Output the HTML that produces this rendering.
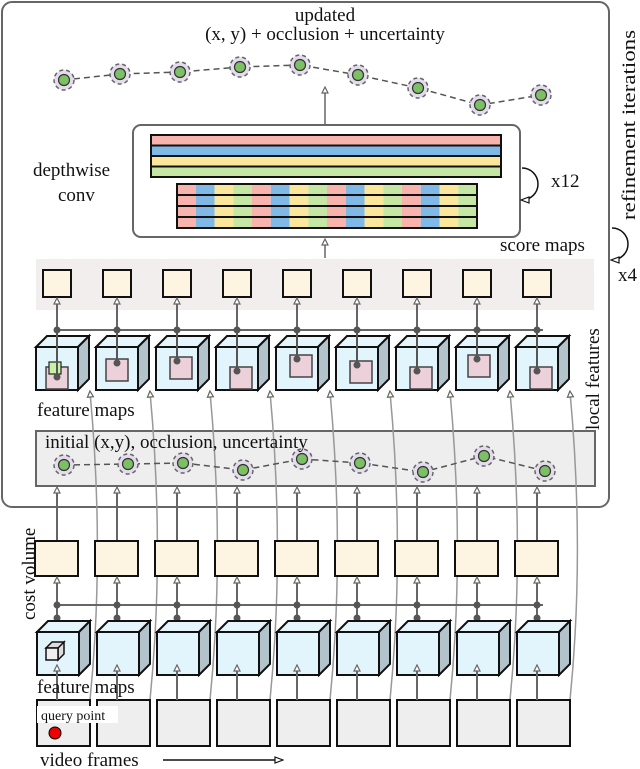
<!DOCTYPE html>
<html><head><meta charset="utf-8"><style>
html,body{margin:0;padding:0;background:#fff}
svg{display:block}
text{font-family:"Liberation Serif",serif;fill:#111}
</style></head><body>
<svg id="s" width="640" height="769" viewBox="0 0 640 769" xmlns="http://www.w3.org/2000/svg">
<defs>
<marker id="ah" markerWidth="8" markerHeight="8" refX="6" refY="4" orient="auto" markerUnits="userSpaceOnUse"><path d="M1,1 L7,4 L1,7 Z" fill="#fff" stroke="#666" stroke-width="1.2"/></marker>
<marker id="ahk" markerWidth="10" markerHeight="8" refX="8" refY="4" orient="auto" markerUnits="userSpaceOnUse"><path d="M1,1 L9,4 L1,7 Z" fill="#fff" stroke="#111" stroke-width="1.2"/></marker>
</defs>
<rect x="2" y="2" width="607" height="505" rx="10" fill="none" stroke="#666" stroke-width="2"/>
<rect x="36" y="259" width="558" height="51" fill="#f3eeee"/>
<rect x="36" y="431" width="559" height="55" fill="#eeeeee" stroke="#666" stroke-width="2"/>
<rect x="133" y="125" width="387" height="112" rx="8" fill="#fff" stroke="#666" stroke-width="2"/>
<g id="g"></g>
<text x="325" y="21" font-size="19" text-anchor="middle">updated</text>
<text x="325" y="40" font-size="19" text-anchor="middle">(x, y) + occlusion + uncertainty</text>
<text x="33" y="176" font-size="19">depthwise</text>
<text x="58" y="201" font-size="19">conv</text>
<text x="551" y="187" font-size="19">x12</text>
<text x="500" y="251" font-size="19">score maps</text>
<text x="618" y="281" font-size="19">x4</text>
<text transform="translate(635,220) rotate(-90)" font-size="19" textLength="190" lengthAdjust="spacingAndGlyphs">refinement iterations</text>
<text transform="translate(599,430) rotate(-90)" font-size="19">local features</text>
<text x="37" y="416" font-size="19">feature maps</text>
<text x="45" y="448" font-size="19">initial (x,y), occlusion, uncertainty</text>
<text transform="translate(35,620) rotate(-90)" font-size="19">cost volume</text>
<text x="37" y="693" font-size="19">feature maps</text>
<rect x="37" y="706" width="81" height="17" fill="#fff"/>
<text x="41" y="720" font-size="14">query point</text>
<circle cx="55" cy="733" r="6" fill="#e00" stroke="#000" stroke-width="1"/>
<text x="40" y="766" font-size="19">video frames</text>
<line x1="163" y1="760" x2="282" y2="760" stroke="#111" stroke-width="1.5" marker-end="url(#ahk)"/>
<path d="M522,168 A14,14 0 1 1 522,200" fill="none" stroke="#111" stroke-width="1.5" marker-end="url(#ahk)"/>
<path d="M612,228 A15,15 0 1 1 612,260" fill="none" stroke="#111" stroke-width="1.5" marker-end="url(#ahk)"/>
</svg>
<script>
(function(){
var g=document.getElementById('g'),h='';
function L(x1,y1,x2,y2,c,w,m){h+='<line x1="'+x1+'" y1="'+y1+'" x2="'+x2+'" y2="'+y2+'" stroke="'+c+'" stroke-width="'+w+'"'+(m?' marker-end="url(#ah)"':'')+'/>';}
function R(x,y,w,hh,f,s,sw){h+='<rect x="'+x+'" y="'+y+'" width="'+w+'" height="'+hh+'" fill="'+f+'" stroke="'+(s||'none')+'" stroke-width="'+(sw||0)+'"/>';}
function D(x,y,r){h+='<circle cx="'+x+'" cy="'+y+'" r="'+r+'" fill="#555"/>';}
function cube(x,y){var w=42,hh=43,d=11;
h+='<path d="M'+x+','+y+' l'+d+',-'+d+' h'+w+' l-'+d+','+d+' Z" fill="#e6f4fb" stroke="#111" stroke-width="2"/>';
h+='<path d="M'+(x+w)+','+y+' l'+d+',-'+d+' v'+hh+' l-'+d+','+d+' Z" fill="#b3c3cb" stroke="#111" stroke-width="2"/>';
R(x,y,w,hh,'#e2f4fc','#111',2);}
function node(x,y){h+='<circle cx="'+x+'" cy="'+y+'" r="10" fill="#e4dcec" stroke="#666" stroke-width="1.5" stroke-dasharray="4,3"/><circle cx="'+x+'" cy="'+y+'" r="5.5" fill="#7dbf65" stroke="#333" stroke-width="1.2"/>';}
var cols=['#f8b4ac','#80b8e6','#fbe79c','#c6e6a4'];
for(var i=0;i<4;i++)R(151,135+i*10.5,350,10.5,cols[i],'#111',2);
for(var r=0;r<4;r++){for(var c=0;c<16;c++){R(177+c*18.75,184+r*11,18.75,11,cols[c%4]);}R(177,184+r*11,300,11,'none','#111',2);}
for(var i=0;i<9;i++){var x=92+60*i;h+='<path d="M'+(x-2)+',700 C'+(x+8)+',600 '+(x+8)+',500 '+(x-2)+',392" fill="none" stroke="#999" stroke-width="1.5" marker-end="url(#ah)"/>';}
L(325,258,325,240,'#666',1.5,1);L(325,125,325,88,'#666',1.5,1);
var tp=[[64,80],[120,74],[180,72],[240,67],[300,65],[358,75],[418,88],[480,105],[541,95]];
var ini=[[64,465],[128,464],[183,463],[243,470],[302,459],[360,463],[423,472],[484,456],[545,471]];
var pd='',pi='';tp.forEach(function(p,k){pd+=(k?'L':'M')+p[0]+','+p[1];});ini.forEach(function(p,k){pi+=(k?'L':'M')+p[0]+','+p[1];});
h+='<path d="'+pd+'" fill="none" stroke="#555" stroke-width="1.5" stroke-dasharray="6,4"/><path d="'+pi+'" fill="none" stroke="#555" stroke-width="1.5" stroke-dasharray="6,4"/>';
tp.forEach(function(p){node(p[0],p[1]);});ini.forEach(function(p){node(p[0],p[1]);});
L(57,330,543,330,'#666',2);L(57,605,543,605,'#666',2);
var pk=[[10,20],[10,12],[14,10],[14,20],[14,8],[14,14],[14,20],[12,8],[14,20]];
for(var i=0;i<9;i++){var x=36+60*i,cx=x+21;
 R(cx-14,270,28,27,'#fdf5e1','#111',2);
 L(cx,330,cx,299,'#666',2,1);D(cx,330,3.5);
 cube(x,347);
 var p=pk[i];R(x+p[0],347+p[1],22,22,'#ecd0da','#444',1.5);
 if(i==0){R(x+13,347+15,12,12,'#c8f0a8','#222',1.2);}
 var ey=347+p[1]+(i==0?10:4);
 L(cx,330,cx,ey,'#555',2);D(cx,ey,3.5);
 L(cx,541,cx,488,'#666',2,1);
 R(cx-22,541,43,35,'#fdf5e1','#111',2);
 L(cx,632,cx,578,'#666',2,1);D(cx,605,3.5);D(cx,618,3.5);
 cube(x+1,632);
 if(i==0){h+='<path d="M46,648 l6,-6 h12 l-6,6 Z M58,648 l6,-6 v12 l-6,6 Z" fill="#ddd" stroke="#111" stroke-width="1.5"/>';R(46,648,12,12,'#eee','#111',1.5);}
 R(x+1,700,53,46,'#eeeeee','#111',2);
 L(cx,700,cx,666,'#666',2,1);
}
g.innerHTML=h;
})();
</script>
</body></html>
